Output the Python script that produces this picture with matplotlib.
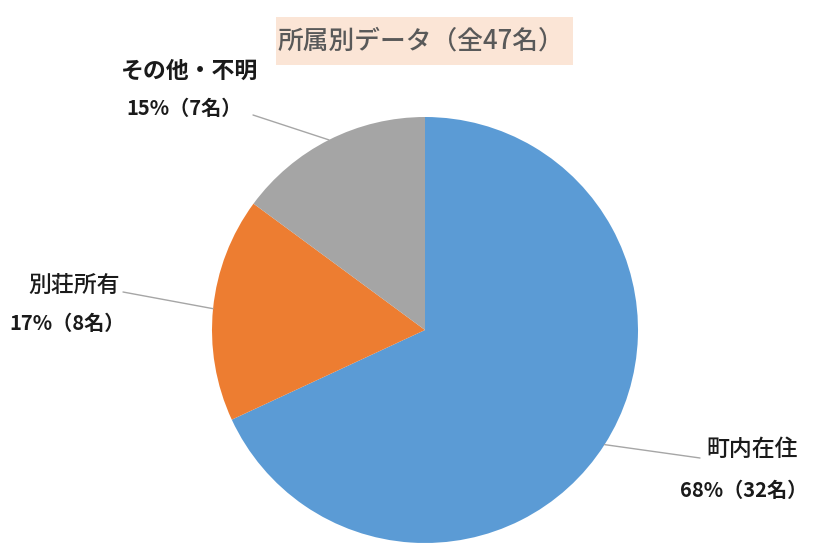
import numpy as np
import matplotlib.pyplot as plt
from matplotlib.patches import Rectangle

plt.rcParams['font.family'] = ['Noto Sans CJK JP', 'DejaVu Sans']

title = '所属別データ（全47名）'
categories = ['町内在住', '別荘所有', 'その他・不明']
counts = [32, 8, 7]
percents = ['68%', '17%', '15%']
colors = ['#5B9BD5', '#ED7D31', '#A5A5A5']

W, H = 819, 560
fig = plt.figure(figsize=(W / 100, H / 100), dpi=100)

# pie axes: centre (425, 330) px, radius 213 px
cx, cy, r = 425, 330, 213
ax = fig.add_axes([(cx - r) / W, (H - cy - r) / H, 2 * r / W, 2 * r / H])
wedges, _ = ax.pie(counts, colors=colors, startangle=90, counterclock=False,
                   radius=1.0, wedgeprops=dict(linewidth=0))
ax.set_xlim(-1, 1)
ax.set_ylim(-1, 1)
ax.set_aspect('equal')
ax.axis('off')

# label positions in image pixels (name centre, value centre, leader start)
label_pos = [
    ((752, 450), (744, 490), (700, 458), 'medium'),
    ((74, 285), (67, 323), (123, 292), 'medium'),
    ((190, 71), (184, 108), (253, 115), 'bold'),
]

for w, name, n, pct, (npos, vpos, lpos, wt) in zip(wedges, categories, counts, percents, label_pos):
    mid = np.deg2rad((w.theta1 + w.theta2) / 2)
    ax.annotate('', xy=(np.cos(mid), np.sin(mid)), xycoords='data',
                xytext=(lpos[0], H - lpos[1]), textcoords='figure pixels',
                arrowprops=dict(arrowstyle='-', color='#A6A6A6', lw=1.0,
                                shrinkA=0, shrinkB=0))
    fig.text(npos[0] / W, 1 - npos[1] / H, name, ha='center', va='center',
             fontsize=16.5, fontweight=wt, color='#1a1a1a')
    fig.text(vpos[0] / W, 1 - vpos[1] / H, f'{pct}（{n}名）', ha='center', va='center',
             fontsize=14.5, fontweight='bold', color='#1a1a1a')

# title box
fig.patches.append(Rectangle((276 / W, 1 - 65 / H), 297 / W, 48 / H,
                             transform=fig.transFigure, facecolor='#FBE5D6',
                             edgecolor='none', zorder=0))
fig.text(421 / W, 1 - 41 / H, title, ha='center', va='center',
         fontsize=18.5, fontweight='medium', color='#595959')

fig.savefig('out.png', dpi=100)
